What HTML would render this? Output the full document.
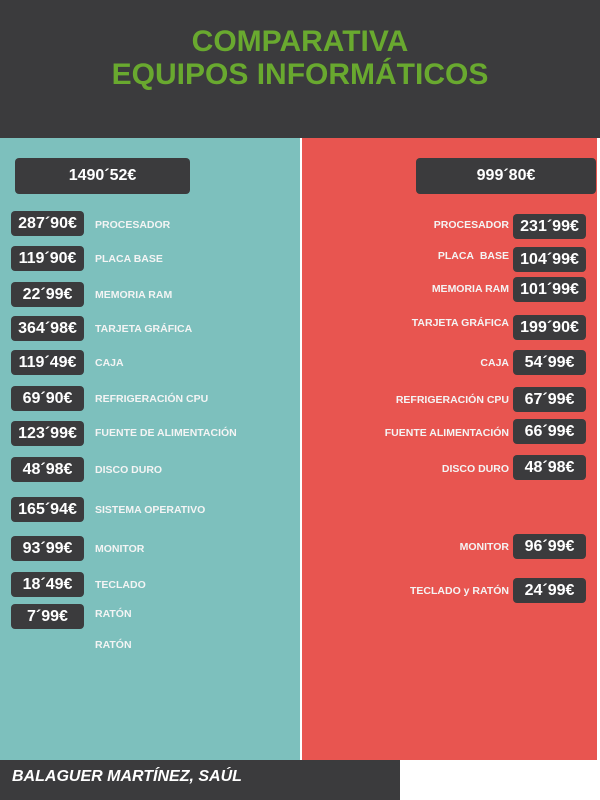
<!DOCTYPE html><html><head><meta charset="utf-8"><style>
*{margin:0;padding:0;box-sizing:border-box}
body{width:600px;height:800px;position:relative;background:#fff;font-family:"Liberation Sans",sans-serif;overflow:hidden}
.a{position:absolute}
.hd{left:0;top:0;width:600px;height:138px;background:#3b3b3d}
.t{left:0;width:600px;text-align:center;color:#69a92f;font-weight:bold;font-size:30px;line-height:32px}
.b{position:absolute;background:#3b3b3d;color:#fff;font-weight:bold;border-radius:4px;text-align:center}
.p{width:73px;height:25px;font-size:16px;line-height:25px}
.l{position:absolute;color:#f4f4f4;font-weight:bold;font-size:10.5px;line-height:12px}
.r{text-align:right;right:91px}
</style></head><body>
<div class="a hd"></div>
<div class="a t" style="top:26px">COMPARATIVA</div>
<div class="a t" style="top:59px">EQUIPOS INFORMÁTICOS</div>
<div class="a" style="left:0;top:138px;width:300px;height:622px;background:#7dc0bd"></div>
<div class="a" style="left:302px;top:138px;width:295px;height:622px;background:#e85550"></div>
<div class="a" style="left:0;top:760px;width:400px;height:40px;background:#3b3b3d"></div>
<div class="a" style="left:12px;top:768px;color:#fff;font-weight:bold;font-style:italic;font-size:16px">BALAGUER MARTÍNEZ, SAÚL</div>
<div class="b" style="left:15px;top:158px;width:175px;height:36px;line-height:36px;font-size:16px">1490´52€</div>
<div class="b" style="left:416px;top:158px;width:180px;height:36px;line-height:36px;font-size:16px">999´80€</div>

<div class="b p" style="left:11px;top:211px">287´90€</div><div class="l" style="left:95px;top:219px">PROCESADOR</div>
<div class="b p" style="left:11px;top:246px">119´90€</div><div class="l" style="left:95px;top:253px">PLACA BASE</div>
<div class="b p" style="left:11px;top:282px">22´99€</div><div class="l" style="left:95px;top:289px">MEMORIA RAM</div>
<div class="b p" style="left:11px;top:316px">364´98€</div><div class="l" style="left:95px;top:323px">TARJETA GRÁFICA</div>
<div class="b p" style="left:11px;top:350px">119´49€</div><div class="l" style="left:95px;top:357px">CAJA</div>
<div class="b p" style="left:11px;top:386px">69´90€</div><div class="l" style="left:95px;top:393px">REFRIGERACIÓN CPU</div>
<div class="b p" style="left:11px;top:421px">123´99€</div><div class="l" style="left:95px;top:427px">FUENTE DE ALIMENTACIÓN</div>
<div class="b p" style="left:11px;top:457px">48´98€</div><div class="l" style="left:95px;top:464px">DISCO DURO</div>
<div class="b p" style="left:11px;top:497px">165´94€</div><div class="l" style="left:95px;top:504px">SISTEMA OPERATIVO</div>
<div class="b p" style="left:11px;top:536px">93´99€</div><div class="l" style="left:95px;top:543px">MONITOR</div>
<div class="b p" style="left:11px;top:572px">18´49€</div><div class="l" style="left:95px;top:579px">TECLADO</div>
<div class="b p" style="left:11px;top:604px">7´99€</div><div class="l" style="left:95px;top:608px">RATÓN</div>
<div class="l" style="left:95px;top:639px">RATÓN</div>

<div class="b p" style="left:513px;top:214px">231´99€</div><div class="l r" style="top:219px">PROCESADOR</div>
<div class="b p" style="left:513px;top:247px">104´99€</div><div class="l r" style="top:250px">PLACA&nbsp; BASE</div>
<div class="b p" style="left:513px;top:277px">101´99€</div><div class="l r" style="top:283px">MEMORIA RAM</div>
<div class="b p" style="left:513px;top:315px">199´90€</div><div class="l r" style="top:317px">TARJETA GRÁFICA</div>
<div class="b p" style="left:513px;top:350px">54´99€</div><div class="l r" style="top:357px">CAJA</div>
<div class="b p" style="left:513px;top:387px">67´99€</div><div class="l r" style="top:394px">REFRIGERACIÓN CPU</div>
<div class="b p" style="left:513px;top:419px">66´99€</div><div class="l r" style="top:427px">FUENTE ALIMENTACIÓN</div>
<div class="b p" style="left:513px;top:455px">48´98€</div><div class="l r" style="top:463px">DISCO DURO</div>
<div class="b p" style="left:513px;top:534px">96´99€</div><div class="l r" style="top:541px">MONITOR</div>
<div class="b p" style="left:513px;top:578px">24´99€</div><div class="l r" style="top:585px">TECLADO y RATÓN</div>
</body></html>
